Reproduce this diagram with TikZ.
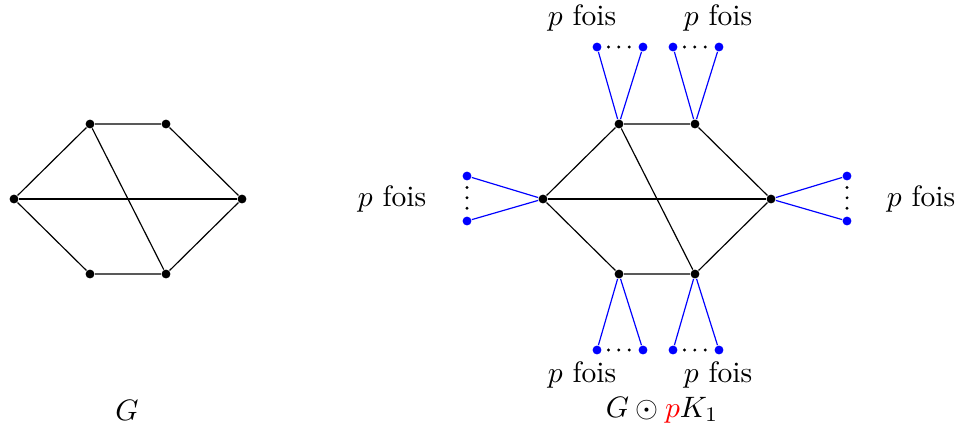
\documentclass[tikz,border=0pt]{standalone}
\usepackage{amsmath,amssymb}
\usepackage{xcolor}
\usetikzlibrary{positioning}

\begin{document}
\begin{tikzpicture}[x=0.0119cm, y=-0.0119cm,
  vtx/.style={circle, fill=black, inner sep=0pt, minimum size=3pt},
  leaf/.style={circle, fill=blue, inner sep=0pt, minimum size=3pt},
  edge/.style={black, line width=0.4pt},
  pend/.style={blue, line width=0.4pt},
  dots/.style={line width=1.1pt, line cap=round, dash pattern=on 0pt off 3.5pt,
    shorten <=2.2pt, shorten >=2.2pt},
  lbl/.style={inner sep=0pt}]
\useasboundingbox (0,0) rectangle (959,431);

% le graphe G
\node[vtx] (g1) at (14,199) {};
\node[vtx] (g2) at (90,124) {};
\node[vtx] (g3) at (166,124) {};
\node[vtx] (g4) at (242,199) {};
\node[vtx] (g5) at (166,274) {};
\node[vtx] (g6) at (90,274) {};
\draw[edge] (g1) -- (g2) -- (g3) -- (g4) -- (g5) -- (g6) -- (g1);
\draw[edge] (g1) -- (g4);
\draw[edge] (g2) -- (g5);
\node[lbl] (nameG) at (127,410) {$G$};

% la couronne G o pK1
\node[vtx] (h1) at (543,199) {};
\node[vtx] (h2) at (619,124) {};
\node[vtx] (h3) at (695,124) {};
\node[vtx] (h4) at (771,199) {};
\node[vtx] (h5) at (695,274) {};
\node[vtx] (h6) at (619,274) {};

% feuilles
\node[leaf] (l1a) at (467,176) {};
\node[leaf] (l1b) at (467,221) {};
\node[leaf] (l2a) at (597,47) {};
\node[leaf] (l2b) at (643,47) {};
\node[leaf] (l3a) at (673,47) {};
\node[leaf] (l3b) at (719,47) {};
\node[leaf] (l4a) at (847,176) {};
\node[leaf] (l4b) at (847,221) {};
\node[leaf] (l5a) at (673,350) {};
\node[leaf] (l5b) at (719,350) {};
\node[leaf] (l6a) at (597,350) {};
\node[leaf] (l6b) at (643,350) {};

\foreach \i in {1,...,6}{
  \draw[pend] (l\i a) -- (h\i);
  \draw[pend] (l\i b) -- (h\i);
  \draw[dots] (l\i a) -- (l\i b);
}

\draw[edge] (h1) -- (h2) -- (h3) -- (h4) -- (h5) -- (h6) -- (h1);
\draw[edge] (h1) -- (h4);
\draw[edge] (h2) -- (h5);

\node[lbl] (f1) at (392,199) {$p$ fois};
\node[lbl] (f2) at (582,18) {$p$ fois};
\node[lbl] (f3) at (718,18) {$p$ fois};
\node[lbl] (f4) at (921,199) {$p$ fois};
\node[lbl] (f5) at (718,375) {$p$ fois};
\node[lbl] (f6) at (582,375) {$p$ fois};
\node[lbl] (nameH) at (662,410) {$G\odot{\color{red}p}K_1$};
\end{tikzpicture}
\end{document}
